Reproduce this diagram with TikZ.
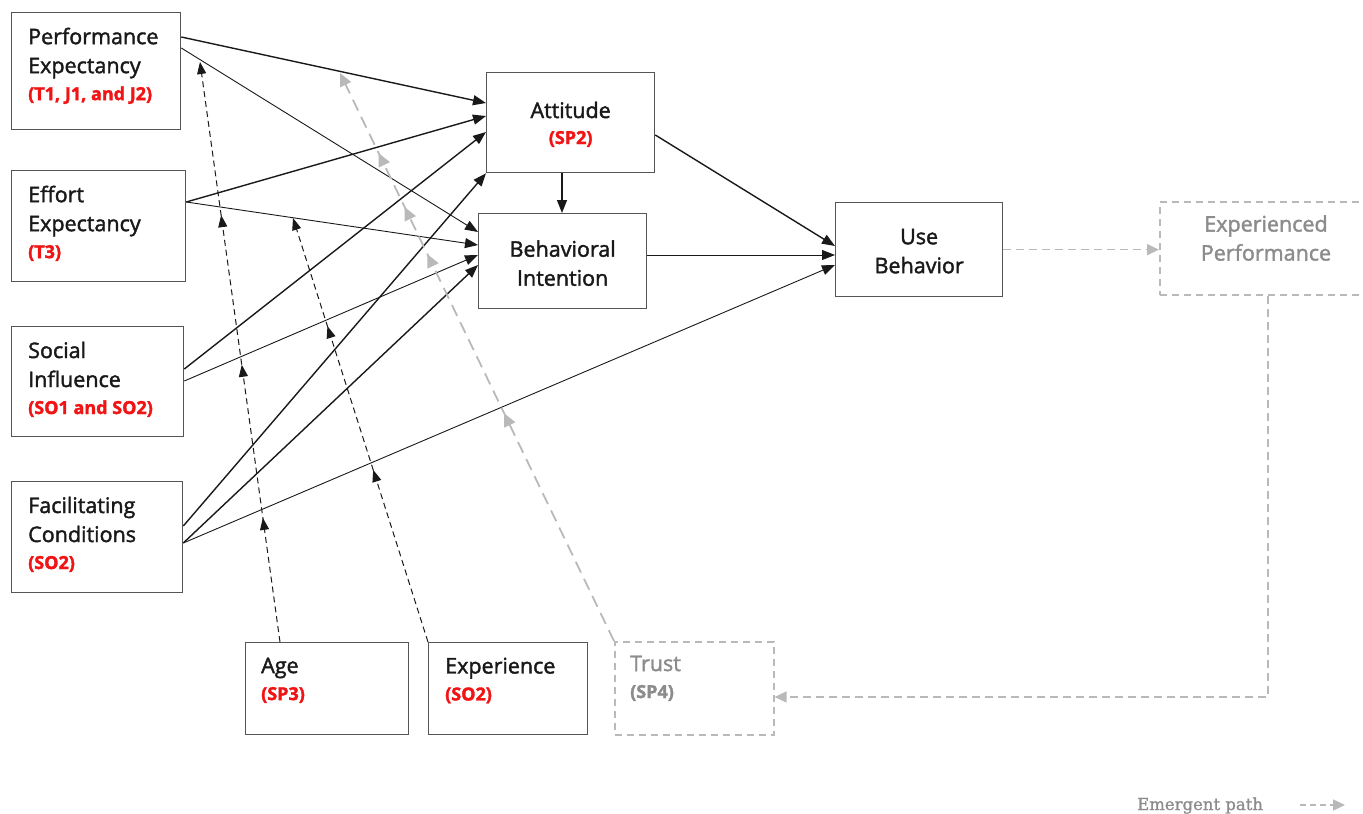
\documentclass[tikz,border=0pt]{standalone}
\usepackage{fontspec}
\setmainfont{Open Sans}
\newfontfamily\lblfont{Open Sans}[FakeBold=1.8]
\newfontfamily\legfont{DejaVu Serif}[FakeBold=1.2]
\usetikzlibrary{arrows.meta,decorations.markings,calc}
\definecolor{boxc}{RGB}{85,85,85}
\definecolor{linec}{RGB}{25,25,25}
\definecolor{redc}{RGB}{240,20,20}
\definecolor{emc}{RGB}{185,185,185}
\definecolor{emtext}{RGB}{140,140,140}
\newcommand{\rl}[1]{{\fontsize{18}{20}\selectfont\bfseries\color{redc}#1}}
\newcommand{\gl}[1]{{\fontsize{18}{20}\selectfont\bfseries\color{emtext}#1}}
\tikzset{
  box/.style={draw=boxc, line width=1.3pt, anchor=north west, inner sep=0pt},
  embox/.style={draw=emc, line width=1.6pt, dash pattern=on 7pt off 5pt, anchor=north west, inner sep=0pt},
  lbl/.style={font=\lblfont\fontsize{21.5}{29}\selectfont, text=linec, align=left, inner sep=0pt, anchor=north west},
  clbl/.style={font=\lblfont\fontsize{21.5}{29}\selectfont, text=linec, align=center, inner sep=0pt},
  thk/.style={draw=linec, line width=1.4pt, -{Triangle[length=13pt,width=10pt]}},
  thn/.style={draw=linec, line width=0.9pt, -{Triangle[length=13pt,width=10pt]}},
  moder/.style={draw=linec, line width=1pt, dash pattern=on 6pt off 4pt, -{Triangle[length=12pt,width=9pt]}},
  emline/.style={draw=emc, line width=1.6pt, dash pattern=on 8pt off 5pt, -{Triangle[length=12pt,width=11pt]}},
  emmod/.style={draw=emc, line width=1.8pt, dash pattern=on 12pt off 7pt, -{Triangle[length=13pt,width=12pt]}},
}
\begin{document}
\begin{tikzpicture}[x=1pt,y=-1pt]
\useasboundingbox (0,0) rectangle (1363,814);
% boxes
\node[box, minimum width=169pt, minimum height=117pt] (pe) at (11,12) {};
\node[box, minimum width=174pt, minimum height=111pt] (ee) at (11,170) {};
\node[box, minimum width=172pt, minimum height=110pt] (si) at (11,326) {};
\node[box, minimum width=171pt, minimum height=111pt] (fc) at (11,481) {};
\node[box, minimum width=168pt, minimum height=100pt] (att) at (486,72) {};
\node[box, minimum width=168pt, minimum height=95pt] (bi) at (478,213) {};
\node[box, minimum width=167pt, minimum height=94pt] (ub) at (835,202) {};
\node[embox, minimum width=215pt, minimum height=93pt] (ep) at (1159,201) {};
\node[box, minimum width=163pt, minimum height=92pt] (age) at (245,642) {};
\node[box, minimum width=159pt, minimum height=92pt] (exp) at (428,642) {};
\node[embox, minimum width=159pt, minimum height=93pt] (trust) at (614,641) {};
% labels
\node[lbl] (peT) at ($(pe.north west)+(17,15.5)$) {Performance\\Expectancy\\[-2pt]\rl{(T1, J1, and J2)}};
\node[lbl] (eeT) at ($(ee.north west)+(17,15.5)$) {Effort\\Expectancy\\[-2pt]\rl{(T3)}};
\node[lbl] (siT) at ($(si.north west)+(17,15.5)$) {Social\\Influence\\[-2pt]\rl{(SO1 and SO2)}};
\node[lbl] (fcT) at ($(fc.north west)+(17,15.5)$) {Facilitating\\Conditions\\[-2pt]\rl{(SO2)}};
\node[clbl, anchor=north] (attT) at ($(att.north)+(0,29.5)$) {Attitude\\[-3pt]\rl{(SP2)}};
\node[clbl] (biT) at ($(bi.center)+(0,2)$) {Behavioral\\Intention};
\node[clbl] (ubT) at ($(ub.center)+(0,1.5)$) {Use\\Behavior};
\node[clbl, text=emtext] (epT) at ($(ep.north west)+(107,37)$) {Experienced\\Performance};
\node[lbl] (ageT) at ($(age.north west)+(16,15.5)$) {Age\\[-2pt]\rl{(SP3)}};
\node[lbl] (expT) at ($(exp.north west)+(17,15.5)$) {Experience\\[-2pt]\rl{(SO2)}};
\node[lbl, text=emtext] (trustT) at ($(trust.north west)+(16,14.5)$) {Trust\\[-2pt]\gl{(SP4)}};
% main paths
\draw[thk] ($(pe.north east)+(0,25)$) -- ($(att.north west)+(0,31)$);
\draw[thn] ($(pe.north east)+(0,36)$) -- ($(bi.north west)+(0,19)$);
\draw[thk] ($(ee.north east)+(0,32)$) -- ($(att.north west)+(0,44)$);
\draw[thn] ($(ee.north east)+(0,32)$) -- ($(bi.north west)+(0,32)$);
\draw[thk] ($(si.north east)+(0,43)$) -- ($(att.north west)+(0,60)$);
\draw[thn] ($(si.north east)+(0,55)$) -- ($(bi.north west)+(0,42)$);
\draw[thk] ($(fc.north east)+(0,45)$) -- (att.south west);
\draw[thk] ($(fc.north east)+(0,62)$) -- ($(bi.north west)+(0,52)$);
\draw[thn] ($(fc.north east)+(0,62)$) -- ($(ub.north west)+(0,63)$);
\draw[thk] ($(att.south west)+(76,0)$) -- ($(bi.north west)+(84,0)$);
\draw[thk] ($(att.north east)+(0,63)$) -- ($(ub.north west)+(0,44)$);
\draw[thn] ($(bi.north east)+(0,42)$) -- ($(ub.north west)+(0,53)$);
% emergent paths
\draw[emline] (ub.east) -- (ub.east -| ep.west);
\coordinate (epS) at ($(ep.south west)+(109,0)$);
\coordinate (trE) at ($(trust.north east)+(0,56)$);
\draw[emline] (epS) |- (trE);
% moderators
\coordinate (ageS) at ($(age.north west)+(35,0)$);
\coordinate (ageE) at (200,62);
\draw[moder, postaction={decorate, decoration={markings,
  mark=at position 0.214 with {\arrow{Triangle[length=12pt,width=9pt]}},
  mark=at position 0.478 with {\arrow{Triangle[length=12pt,width=9pt]}},
  mark=at position 0.736 with {\arrow{Triangle[length=12pt,width=9pt]}}}}] (ageS) -- (ageE);
\coordinate (expE) at (293,218);
\draw[moder, postaction={decorate, decoration={markings,
  mark=at position 0.406 with {\arrow{Triangle[length=12pt,width=9pt]}},
  mark=at position 0.745 with {\arrow{Triangle[length=12pt,width=9pt]}}}}] (exp.north west) -- (expE);
\coordinate (trustE) at (340,73);
\draw[emmod, postaction={decorate, decoration={markings,
  mark=at position 0.401 with {\arrow{Triangle[length=13pt,width=12pt]}},
  mark=at position 0.681 with {\arrow{Triangle[length=13pt,width=12pt]}},
  mark=at position 0.764 with {\arrow{Triangle[length=13pt,width=12pt]}},
  mark=at position 0.859 with {\arrow{Triangle[length=13pt,width=12pt]}}}}] (trust.north west) -- (trustE);
% legend
\node[font=\legfont\fontsize{16.5}{18}\selectfont, text=emtext, anchor=base west, inner sep=0pt] (legT) at (1137,810) {Emergent path};
\coordinate (legA) at (1300,805);
\coordinate (legB) at (1345,805);
\draw[emline, line width=1.4pt, dash pattern=on 6pt off 4pt] (legA) -- (legB);
\end{tikzpicture}
\end{document}
